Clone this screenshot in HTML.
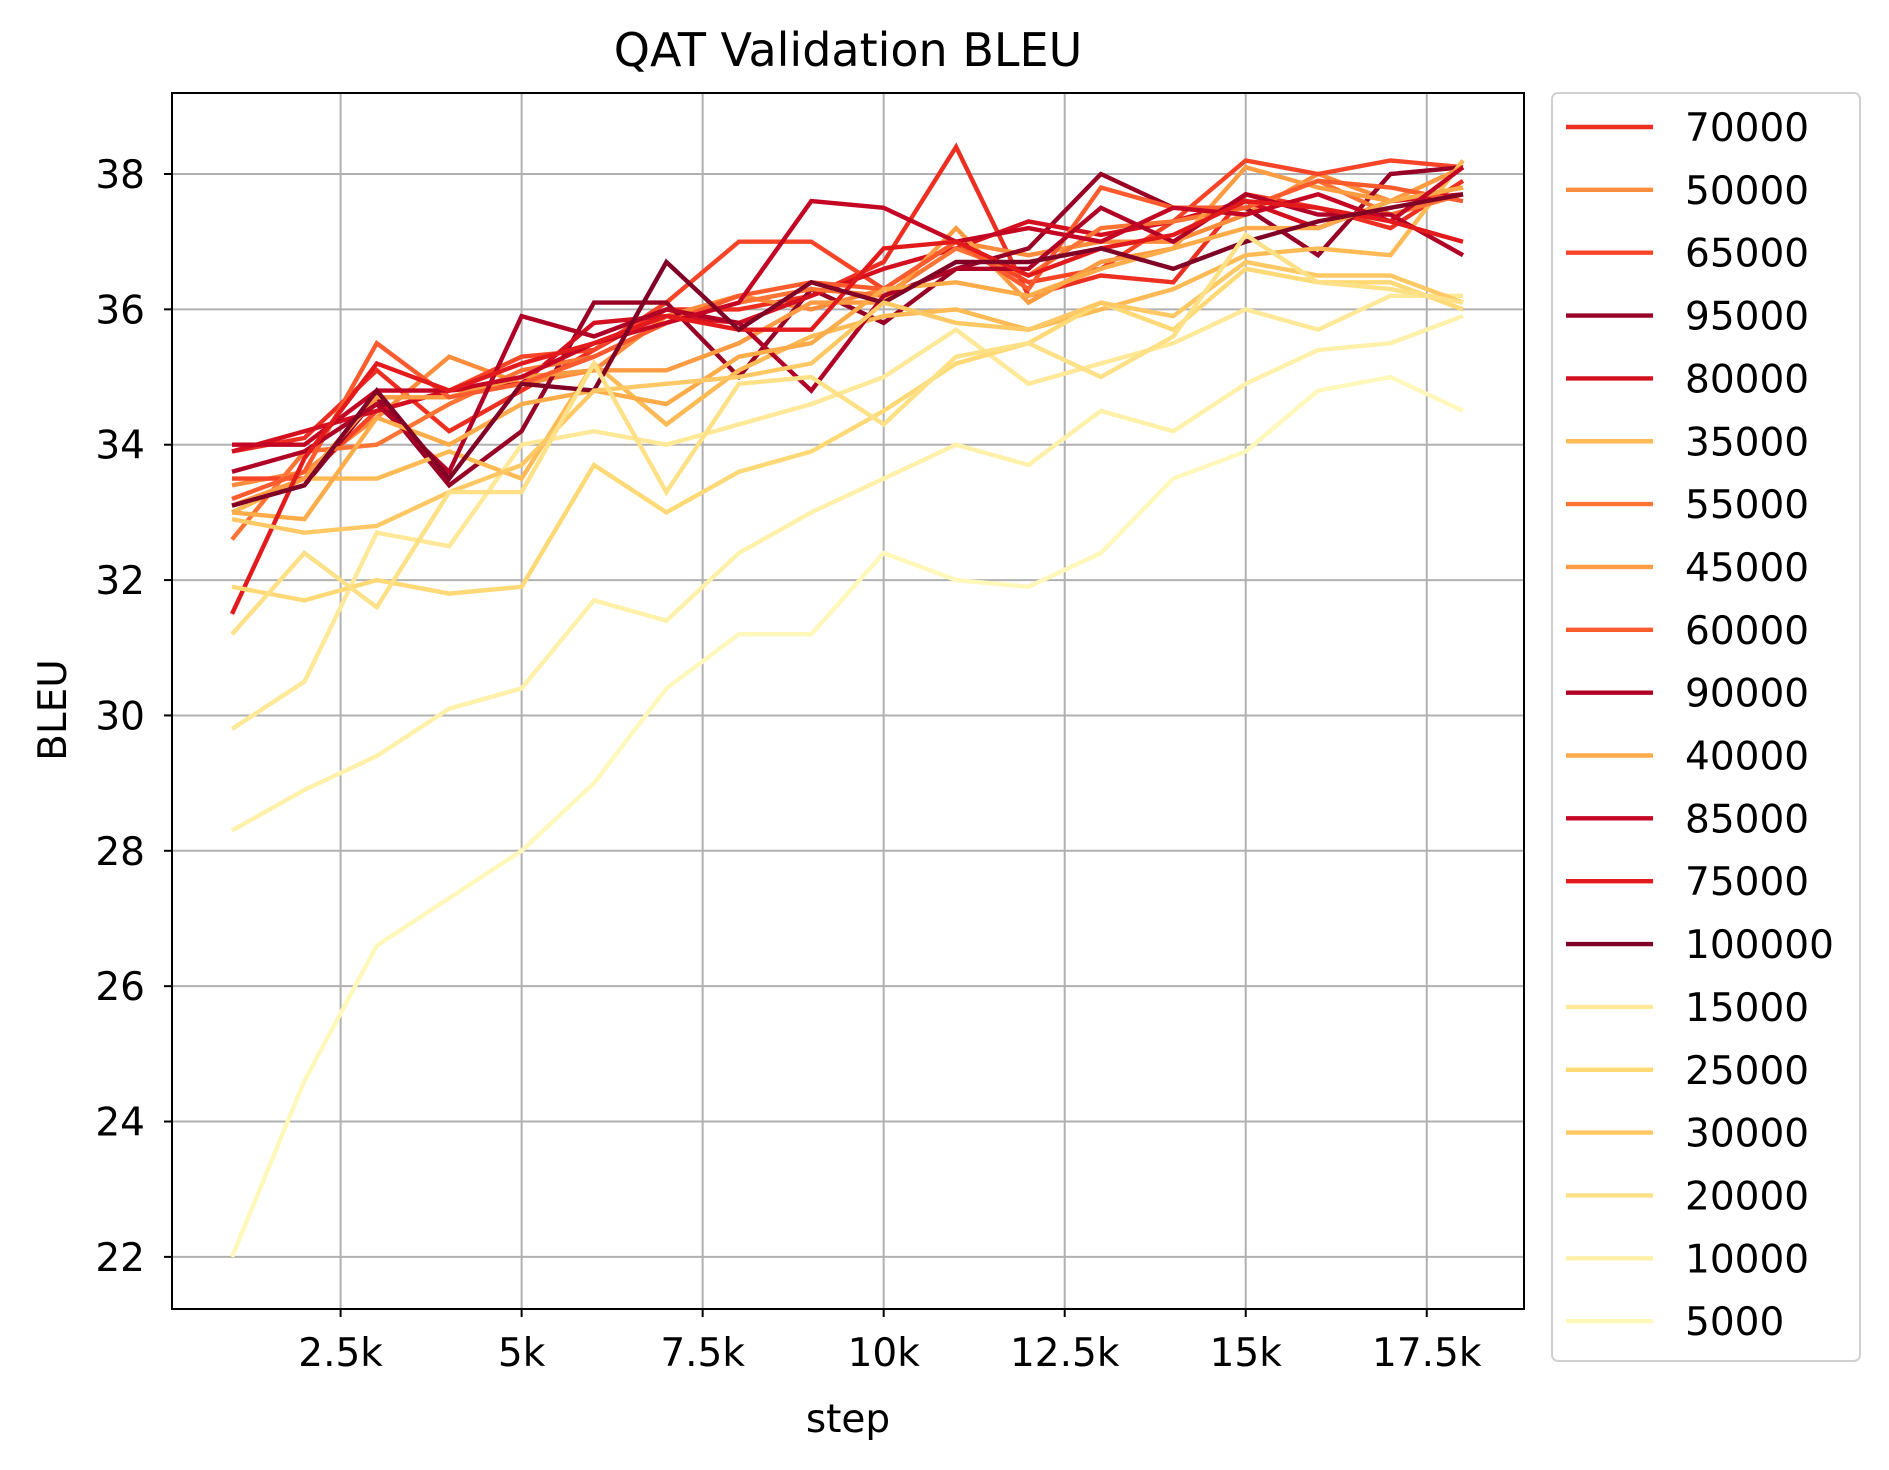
<!DOCTYPE html>
<html><head><meta charset="utf-8"><style>
html,body{margin:0;padding:0;background:#fff;}
svg{display:block;font-family:"DejaVu Sans","Liberation Sans",sans-serif;}
</style></head><body>
<svg id="chart" width="1889" height="1470" viewBox="0 0 1889 1470" xmlns="http://www.w3.org/2000/svg">
<rect width="1889" height="1470" fill="#fff"/>
<text x="848" y="66" font-size="46" text-anchor="middle">QAT Validation BLEU</text>
<g id="grid"></g>
<g id="lines"></g>
<rect x="172" y="93" width="1352" height="1216" fill="none" stroke="#000" stroke-width="2"/>
<g id="ticks"></g>
<text x="848" y="1432" font-size="39" text-anchor="middle">step</text>
<text transform="translate(66,710) rotate(-90)" font-size="39" text-anchor="middle">BLEU</text>
<g id="legend"></g>
</svg>
<script>
const steps = [1,2,3,4,5,6,7,8,9,10,11,12,13,14,15,16,17,18];
const seriesNames = [70000,50000,65000,95000,80000,35000,55000,45000,60000,90000,40000,85000,75000,100000,15000,25000,30000,20000,10000,5000];
const s5000 = [22.0,24.6,26.6,27.3,28.0,29.0,30.4,31.2,31.2,32.4,32.0,31.9,32.4,33.5,33.9,34.8,35.0,34.5];
const s10000 = [28.3,28.9,29.4,30.1,30.4,31.7,31.4,32.4,33.0,33.5,34.0,33.7,34.5,34.2,34.9,35.4,35.5,35.9];
const s15000 = [29.8,30.5,32.7,32.5,34.0,34.2,34.0,34.3,34.6,35.0,35.7,34.9,35.2,35.5,36.0,35.7,36.2,36.2];
const s20000 = [31.2,32.4,31.6,33.3,33.3,35.2,33.3,34.9,35.0,34.3,35.3,35.5,35.0,35.6,37.1,36.4,36.3,36.1];
const s25000 = [31.9,31.7,32.0,31.8,31.9,33.7,33.0,33.6,33.9,34.5,35.2,35.5,36.1,35.7,36.6,36.4,36.4,36.0];
const s30000 = [32.9,32.7,32.8,33.3,33.7,34.8,34.9,35.0,35.2,36.1,35.8,35.7,36.1,35.9,36.7,36.5,36.5,36.1];
const s35000 = [33.0,33.5,33.5,33.9,33.5,35.2,34.3,35.1,35.6,35.9,36.0,35.7,36.0,36.3,36.8,36.9,36.8,38.2];
const s40000 = [33.0,32.9,34.4,34.0,34.6,34.8,34.6,35.3,35.5,36.3,36.4,36.2,36.6,36.9,37.2,37.2,37.6,37.8];
const s45000 = [33.1,33.5,34.7,34.7,35.0,35.1,35.1,35.5,36.1,36.1,37.2,36.1,36.7,36.9,38.1,37.8,37.6,38.1];
const s50000 = [33.4,33.6,34.4,35.3,34.9,35.1,35.9,36.2,36.0,36.3,37.0,36.8,37.0,37.0,37.4,38.0,37.6,37.8];
const s55000 = [32.6,33.9,34.0,34.6,35.1,35.3,35.8,36.1,36.3,36.2,36.9,36.5,37.2,37.3,37.5,37.9,37.4,37.7];
const s60000 = [33.2,33.6,35.5,34.7,34.9,35.3,35.8,36.2,36.4,36.3,37.0,36.3,37.8,37.5,37.5,37.9,37.8,37.6];
const s65000 = [33.5,33.5,34.5,34.8,35.3,35.4,36.1,37.0,37.0,36.3,37.0,36.4,36.6,37.3,38.2,38.0,38.2,38.1];
const s70000 = [33.9,34.1,35.1,34.2,34.8,35.4,36.0,36.0,36.2,36.7,38.4,36.2,36.5,36.4,37.7,37.5,37.2,37.9];
const s75000 = [31.5,33.8,35.2,34.8,35.2,35.5,35.9,35.7,35.7,36.9,37.0,36.5,36.9,37.1,37.6,37.5,37.3,37.0];
const s80000 = [33.9,34.2,34.5,34.8,34.9,35.8,35.9,35.8,36.2,36.6,36.9,37.3,37.1,37.3,37.6,37.2,37.6,37.7];
const s85000 = [34.0,34.0,34.8,34.8,35.0,35.5,35.8,36.1,37.6,37.5,37.0,37.2,37.0,37.5,37.4,37.7,37.3,38.1];
const s90000 = [33.6,33.9,34.6,33.6,35.9,35.6,36.0,35.8,34.8,36.2,36.6,36.6,37.5,37.0,37.7,37.4,37.4,36.8];
const s95000 = [33.1,33.4,34.7,33.4,34.2,36.1,36.1,35.0,36.3,35.8,36.6,36.9,38.0,37.5,37.5,36.8,38.0,38.1];
const s100000 = [33.1,33.4,34.8,33.5,34.9,34.8,36.7,35.7,36.4,36.1,36.7,36.7,36.9,36.6,37.0,37.3,37.5,37.7];
const yTicks = [22,24,26,28,30,32,34,36,38];
const xTicks = [2.5,5,7.5,10,12.5,15,17.5];
const xTickLabels = ["2.5k","5k","7.5k","10k","12.5k","15k","17.5k"];

const seriesData = {5000:s5000,10000:s10000,15000:s15000,20000:s20000,25000:s25000,30000:s30000,35000:s35000,40000:s40000,45000:s45000,50000:s50000,55000:s55000,60000:s60000,65000:s65000,70000:s70000,75000:s75000,80000:s80000,85000:s85000,90000:s90000,95000:s95000,100000:s100000};
const L=172,R=1524,T=93,B=1309;
const xs = k => 340.6 + (k-2.5)*72.41;
const ys = v => 174 + (38-v)*67.68;
const stops=["#ffffcc","#ffeda0","#fed976","#feb24c","#fd8d3c","#fc4e2a","#e31a1c","#bd0026","#800026"];
function hx(c){return [1,3,5].map(i=>parseInt(c.substr(i,2),16));}
function cmap(t){t=Math.max(0,Math.min(1,t));const p=t*8,i=Math.min(7,Math.floor(p)),f=p-i;const a=hx(stops[i]),b=hx(stops[i+1]);return "rgb("+a.map((v,j)=>Math.round(v+(b[j]-v)*f)).join(",")+")";}
const NS="http://www.w3.org/2000/svg";
function mk(tag,attrs,parent){const e=document.createElementNS(NS,tag);for(const k in attrs)e.setAttribute(k,attrs[k]);parent.appendChild(e);return e;}
const grid=document.getElementById('grid'),ticks=document.getElementById('ticks'),lines=document.getElementById('lines'),legend=document.getElementById('legend');
yTicks.forEach(v=>{
  const y=ys(v);
  const g=mk('line',{x1:L,x2:R,y1:y,y2:y,stroke:'#b0b0b0','stroke-width':2},grid);
  
  
  const t=mk('line',{x1:L-8,x2:L,y1:y,y2:y,stroke:'#000','stroke-width':2},ticks);
  
  
  const tx=mk('text',{x:L-27,y:y+14,'font-size':39,'text-anchor':'end'},ticks);
  tx.textContent=v;
  
  
});
xTicks.forEach((k,i)=>{
  const x=xs(k);
  const g=mk('line',{x1:x,x2:x,y1:T,y2:B,stroke:'#b0b0b0','stroke-width':2},grid);
  
  
  const t=mk('line',{x1:x,x2:x,y1:B,y2:B+8,stroke:'#000','stroke-width':2},ticks);
  
  
  const tx=mk('text',{x:x,y:B+57,'font-size':39,'text-anchor':'middle'},ticks);
  tx.textContent=xTickLabels[i];
  
  
});
seriesNames.forEach(n=>{
  const d=seriesData[n];
  const pts=d.map((v,i)=>xs(steps[i]).toFixed(1)+","+ys(v).toFixed(1)).join(" ");
  const p=mk('polyline',{points:pts,fill:'none',stroke:cmap(n/100000),'stroke-width':4.4,'stroke-linejoin':'miter'},lines);
  
  
});
const lb=mk('rect',{x:1552,y:93,width:308,height:1268,rx:6,fill:'#fff',stroke:'#d0d0d0','stroke-width':2,'fill-opacity':0.8},legend);


seriesNames.forEach((n,i)=>{
  const y=127+i*62.85;
  const g=mk('g',{},legend);
  
  
  mk('line',{x1:1566,x2:1653,y1:y,y2:y,stroke:cmap(n/100000),'stroke-width':4.4},g);
  const t=mk('text',{x:1685,y:y+14,'font-size':39},g);
  t.textContent=n;
});
</script>
</body></html>
